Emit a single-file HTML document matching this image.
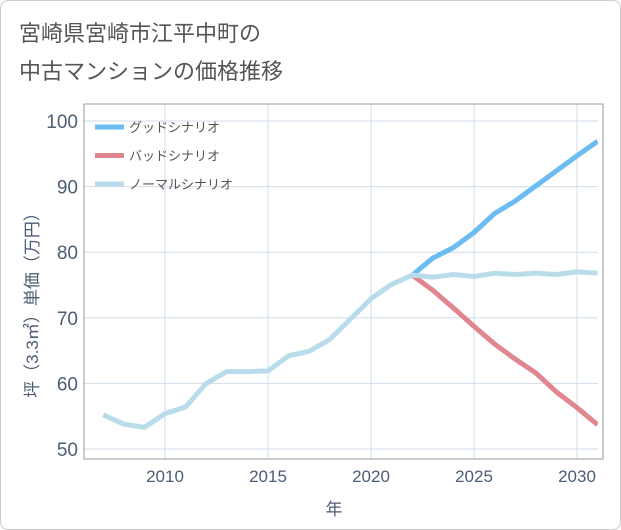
<!DOCTYPE html>
<html><head><meta charset="utf-8"><style>
body{margin:0;background:#fff;font-family:"Liberation Sans","Noto Sans CJK JP",sans-serif}
#wrap{position:relative;width:619px;height:528px;border:1px solid #ccc;border-radius:8px;overflow:hidden}
</style></head><body>
<div id="wrap">
<svg id="chart" width="621" height="530">
<text x="18" y="40" font-size="22" fill="#555">宮崎県宮崎市江平中町の</text>
<text x="18" y="78" font-size="22" fill="#555">中古マンションの価格推移</text>
<g id="grid"></g><g id="series"></g><g id="axes"></g>
</svg></div>
<script>
const years=[2007,2008,2009,2010,2011,2012,2013,2014,2015,2016,2017,2018,2019,2020,2021,2022,2023,2024,2025,2026,2027,2028,2029,2030,2031];
const normalVals=[55.2,53.8,53.3,55.4,56.4,60,61.8,61.8,61.9,64.2,64.9,66.7,69.8,72.9,75.1,76.5,76.2,76.6,76.3,76.8,76.6,76.8,76.6,77,76.8];
const futureYears=[2022,2023,2024,2025,2026,2027,2028,2029,2030,2031];
const goodVals=[76.5,79.1,80.7,83,85.9,87.8,90.1,92.4,94.7,96.9];
const badVals=[76.5,74.2,71.5,68.7,66,63.7,61.6,58.7,56.3,53.7];
const xTicks=[2010,2015,2020,2025,2030];
const yTicks=[50,60,70,80,90,100];
const L=83,R=597,T=103,B=458;
const X=v=>164+(v-2010)*20.6;
const Y=v=>120+(100-v)*6.56;
const NS="http://www.w3.org/2000/svg";
const TC='#4d5d75';
function mk(p,t,a){const e=document.createElementNS(NS,t);for(const k in a)e.setAttribute(k,a[k]);p.appendChild(e);return e;}
const grid=document.getElementById('grid'),axes=document.getElementById('axes'),ser=document.getElementById('series');
xTicks.forEach(v=>{const l=mk(grid,'line',{x1:X(v),x2:X(v),y1:T,y2:B,stroke:'#d0dde8'});


const t=mk(axes,'text',{x:X(v),y:481,'font-size':17,fill:TC,'text-anchor':'middle'});t.textContent=v;

});
yTicks.forEach(v=>{const l=mk(grid,'line',{x1:L,x2:R,y1:Y(v),y2:Y(v),stroke:'#d0dde8'});


const t=mk(axes,'text',{x:77,y:Y(v)+7,'font-size':19,fill:TC,'text-anchor':'end'});t.textContent=v;

});
const fr=mk(axes,'rect',{x:L,y:T,width:R-L+5,height:B-T,fill:'none',stroke:'#999'});


const xt=mk(axes,'text',{x:333,y:514,'font-size':17,fill:TC,'text-anchor':'middle'});xt.textContent='年';


const yt=mk(axes,'text',{x:0,y:0,'font-size':17,fill:TC,'text-anchor':'middle',transform:'translate(37,300) rotate(-90)'});yt.textContent='坪（3.3㎡）単価（万円）';


function line(xs,vs,c,n){const d=xs.map((x,i)=>(i?'L':'M')+X(x)+','+Y(vs[i])).join('');
const p=mk(ser,'path',{d:d,fill:'none',stroke:c,'stroke-width':5,'stroke-linejoin':'round'});

}
const clip=mk(ser,'clipPath',{id:'c'});mk(clip,'rect',{x:L,y:T,width:R-L,height:B-T});
ser.setAttribute('clip-path','url(#c)');
line(futureYears,goodVals,'#6bbcf0','good-scenario-line');
line(futureYears,badVals,'#e0868f','bad-scenario-line');
line(years,normalVals,'#b9dcea','normal-scenario-line');
[['グッドシナリオ','#6bbcf0','legend-good'],['バッドシナリオ','#e0868f','legend-bad'],['ノーマルシナリオ','#b9dcea','legend-normal']].forEach((e,i)=>{
const y=126+i*28.5;const g=mk(axes,'g',{});


mk(g,'line',{x1:94,x2:123,y1:y,y2:y,stroke:e[1],'stroke-width':5});
const t=mk(g,'text',{x:128,y:y+5,'font-size':13,fill:'#555'});t.textContent=e[0];});
</script>
</body></html>
